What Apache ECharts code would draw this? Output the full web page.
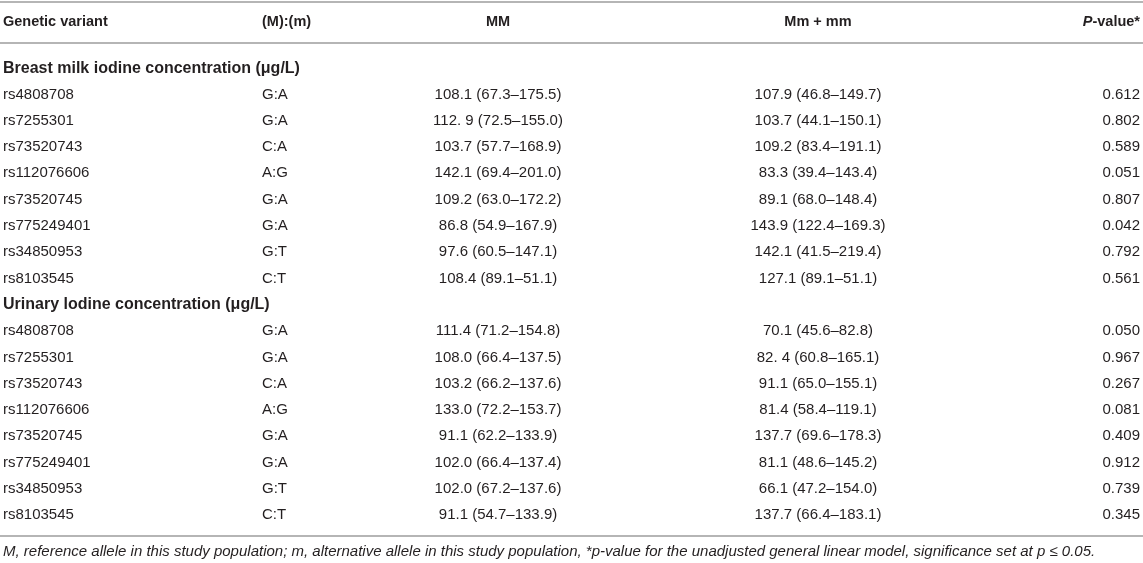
<!DOCTYPE html>
<html>
<head>
<meta charset="utf-8">
<script src="https://cdn.jsdelivr.net/npm/echarts@6/dist/echarts.min.js"></script>
<style>
  html, body { margin: 0; padding: 0; background: #fff; }
  #table { width: 1143px; height: 563px; }
</style>
</head>
<body>
<div id="table"></div>
<script>
// table content
const headers = ['Genetic variant', '(M):(m)', 'MM', 'Mm + mm', '{i|P}-value*'];

const sections = [
  'Breast milk iodine concentration (\u03bcg/L)',
  'Urinary lodine concentration (\u03bcg/L)'
];

const variants = ['rs4808708', 'rs7255301', 'rs73520743', 'rs112076606',
  'rs73520745', 'rs775249401', 'rs34850953', 'rs8103545'];
const alleles = ['G:A', 'G:A', 'C:A', 'A:G', 'G:A', 'G:A', 'G:T', 'C:T'];

const milkMM = ['108.1 (67.3\u2013175.5)', '112. 9 (72.5\u2013155.0)', '103.7 (57.7\u2013168.9)',
  '142.1 (69.4\u2013201.0)', '109.2 (63.0\u2013172.2)', '86.8 (54.9\u2013167.9)',
  '97.6 (60.5\u2013147.1)', '108.4 (89.1\u201351.1)'];
const milkMm = ['107.9 (46.8\u2013149.7)', '103.7 (44.1\u2013150.1)', '109.2 (83.4\u2013191.1)',
  '83.3 (39.4\u2013143.4)', '89.1 (68.0\u2013148.4)', '143.9 (122.4\u2013169.3)',
  '142.1 (41.5\u2013219.4)', '127.1 (89.1\u201351.1)'];
const milkP = ['0.612', '0.802', '0.589', '0.051', '0.807', '0.042', '0.792', '0.561'];

const urineMM = ['111.4 (71.2\u2013154.8)', '108.0 (66.4\u2013137.5)', '103.2 (66.2\u2013137.6)',
  '133.0 (72.2\u2013153.7)', '91.1 (62.2\u2013133.9)', '102.0 (66.4\u2013137.4)',
  '102.0 (67.2\u2013137.6)', '91.1 (54.7\u2013133.9)'];
const urineMm = ['70.1 (45.6\u201382.8)', '82. 4 (60.8\u2013165.1)', '91.1 (65.0\u2013155.1)',
  '81.4 (58.4\u2013119.1)', '137.7 (69.6\u2013178.3)', '81.1 (48.6\u2013145.2)',
  '66.1 (47.2\u2013154.0)', '137.7 (66.4\u2013183.1)'];
const urineP = ['0.050', '0.967', '0.267', '0.081', '0.409', '0.912', '0.739', '0.345'];

const footnote = 'M, reference allele in this study population; m, alternative allele in this study population, ' +
  '*p-value for the unadjusted general linear model, significance set at p \u2264 0.05.';

// layout of the columns (anchor on a 0..1143 axis) and text styling
const colX = [3, 262, 498, 818, 1140];
const colAlign = ['left', 'left', 'center', 'center', 'right'];
const fontFamily = '"Liberation Sans", Arial, Helvetica, sans-serif';
const textColor = '#231f20';
const ruleColor = '#b5b5b5';

// build rows: heading + 8 variants per section
const rowKeys = [];
const cells = [];
function addSection(title, mm, mmm, p){
  const hr = rowKeys.length;
  rowKeys.push(title);
  cells.push({ value: [0, hr], text: title, bold: true });
  variants.forEach((v, i) => {
    const r = rowKeys.length;
    rowKeys.push(title + '|' + v);
    [v, alleles[i], mm[i], mmm[i], p[i]].forEach((t, c) => {
      cells.push({ value: [c, r], text: t, bold: false });
    });
  });
}
addSection(sections[0], milkMM, milkMm, milkP);
addSection(sections[1], urineMM, urineMm, urineP);

const chart = echarts.init(document.getElementById('table'), null, { renderer: 'canvas' });

const rowH = 26.3;
const gridTop = 55;

chart.setOption({
  backgroundColor: '#fff',
  animation: false,
  grid: { left: 0, right: 0, top: gridTop, height: rowH * rowKeys.length },
  xAxis: { type: 'value', min: 0, max: 1143, show: false },
  yAxis: { type: 'category', data: rowKeys, inverse: true, show: false },
  series: [{
    type: 'custom',
    data: cells,
    renderItem: (params, api) => {
      const cell = cells[params.dataIndex];
      const col = api.value(0);
      const pt = api.coord([colX[col], api.value(1)]);
      return {
        type: 'text',
        x: pt[0], y: pt[1],
        style: {
          text: cell.text,
          align: cell.bold ? 'left' : colAlign[col],
          verticalAlign: 'middle',
          fill: textColor,
          font: (cell.bold ? 'bold 16px ' : '15px ') + fontFamily
        }
      };
    }
  }],
  graphic: [
    { type: 'line', shape: { x1: 0, y1: 2, x2: 1143, y2: 2 }, style: { stroke: ruleColor, lineWidth: 2 } },
    { type: 'line', shape: { x1: 0, y1: 43, x2: 1143, y2: 43 }, style: { stroke: ruleColor, lineWidth: 2 } },
    { type: 'line', shape: { x1: 0, y1: 536, x2: 1143, y2: 536 }, style: { stroke: ruleColor, lineWidth: 2 } },
    ...headers.map((h, c) => ({
      type: 'text', x: colX[c], y: 22,
      style: {
        text: h,
        align: colAlign[c],
        verticalAlign: 'middle',
        fill: textColor,
        font: 'bold 14.5px ' + fontFamily,
        rich: { i: { fontStyle: 'italic', fontWeight: 'bold', fontSize: 14.5, fontFamily, fill: textColor } }
      }
    })),
    {
      type: 'text', x: 3, y: 552,
      style: {
        text: footnote,
        align: 'left',
        verticalAlign: 'middle',
        fill: textColor,
        font: 'italic 15px ' + fontFamily
      }
    }
  ]
});

window.addEventListener('resize', () => chart.resize());
</script>
</body>
</html>
